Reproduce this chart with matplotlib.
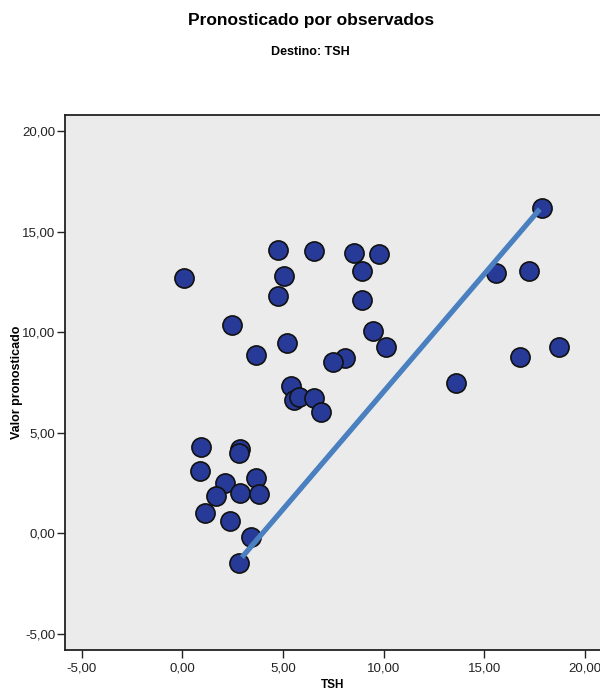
import matplotlib
matplotlib.use("Agg")
import matplotlib.pyplot as plt
from matplotlib.ticker import FuncFormatter

plt.rcParams['font.family'] = ['Liberation Sans', 'DejaVu Sans']

# Observed TSH values
tsh = [0.08, 4.73, 6.55, 8.55, 9.76, 5.03, 8.93, 4.75, 8.95, 2.46,
       9.48, 10.14, 5.2, 3.64, 8.09, 7.49, 5.39, 5.57, 5.81, 6.52,
       6.91, 15.58, 17.2, 18.7, 16.79, 13.61, 17.88,
       0.93, 2.88, 2.8, 0.88, 2.13, 3.64, 1.67, 2.84, 3.79, 1.14,
       2.37, 3.4, 2.8]
# Predicted values
pred = [12.7, 14.11, 14.03, 13.96, 13.9, 12.79, 13.05, 11.79, 11.58, 10.36,
        10.08, 9.27, 9.45, 8.87, 8.72, 8.51, 7.31, 6.62, 6.78, 6.73,
        6.02, 12.95, 13.03, 9.27, 8.79, 7.46, 16.18,
        4.3, 4.2, 4.0, 3.1, 2.5, 2.77, 1.87, 2.02, 1.94, 1.0,
        0.61, -0.18, -1.48]

# Fit line endpoints
fit_x = [2.96, 17.76]
fit_y = [-1.19, 16.12]

ticks = [-5, 0, 5, 10, 15, 20]

fig = plt.figure(figsize=(6, 6.9), dpi=100)
ax = fig.add_axes([65/600, 40/690, 536/600, 535/690])
ax.set_facecolor('#EBEBEB')

ax.scatter(tsh, pred, s=190, facecolor='#283A97', edgecolor='#111111',
           linewidth=1.2, zorder=3)
ax.plot(fit_x, fit_y, color='#4A80C0', linewidth=3.8, zorder=4,
        solid_capstyle='butt')

ax.set_xlim(-5.83, 20.8)
ax.set_ylim(-5.8, 20.8)
ax.set_xticks(ticks)
ax.set_yticks(ticks)
fmt = FuncFormatter(lambda v, p: f"{v:.2f}".replace('.', ','))
ax.xaxis.set_major_formatter(fmt)
ax.yaxis.set_major_formatter(fmt)
ax.tick_params(direction='out', length=6, width=1, colors='#222222',
               labelsize=9.5, labelcolor='#222222')
ax.tick_params(axis='y', pad=1)
ax.tick_params(axis='x', pad=3)
for side in ['top', 'left', 'bottom']:
    ax.spines[side].set_color('#222222')
    ax.spines[side].set_linewidth(1.3)
ax.spines['right'].set_visible(False)

ax.set_xlabel('TSH', fontsize=8.5, fontweight='bold', va='center')
ax.xaxis.set_label_coords(0.5, (650 - 685) / 535)
ax.set_ylabel('Valor pronosticado', fontsize=9, fontweight='bold', va='center')
ax.yaxis.set_label_coords((17 - 65) / 536, 0.5)

fig.text(0.518, 1 - 20/690, 'Pronosticado por observados', ha='center',
         va='center', fontsize=12.5, fontweight='bold')
fig.text(0.518, 1 - 52/690, 'Destino: TSH', ha='center', va='center',
         fontsize=9, fontweight='bold')

fig.savefig('out.png', dpi=100)
